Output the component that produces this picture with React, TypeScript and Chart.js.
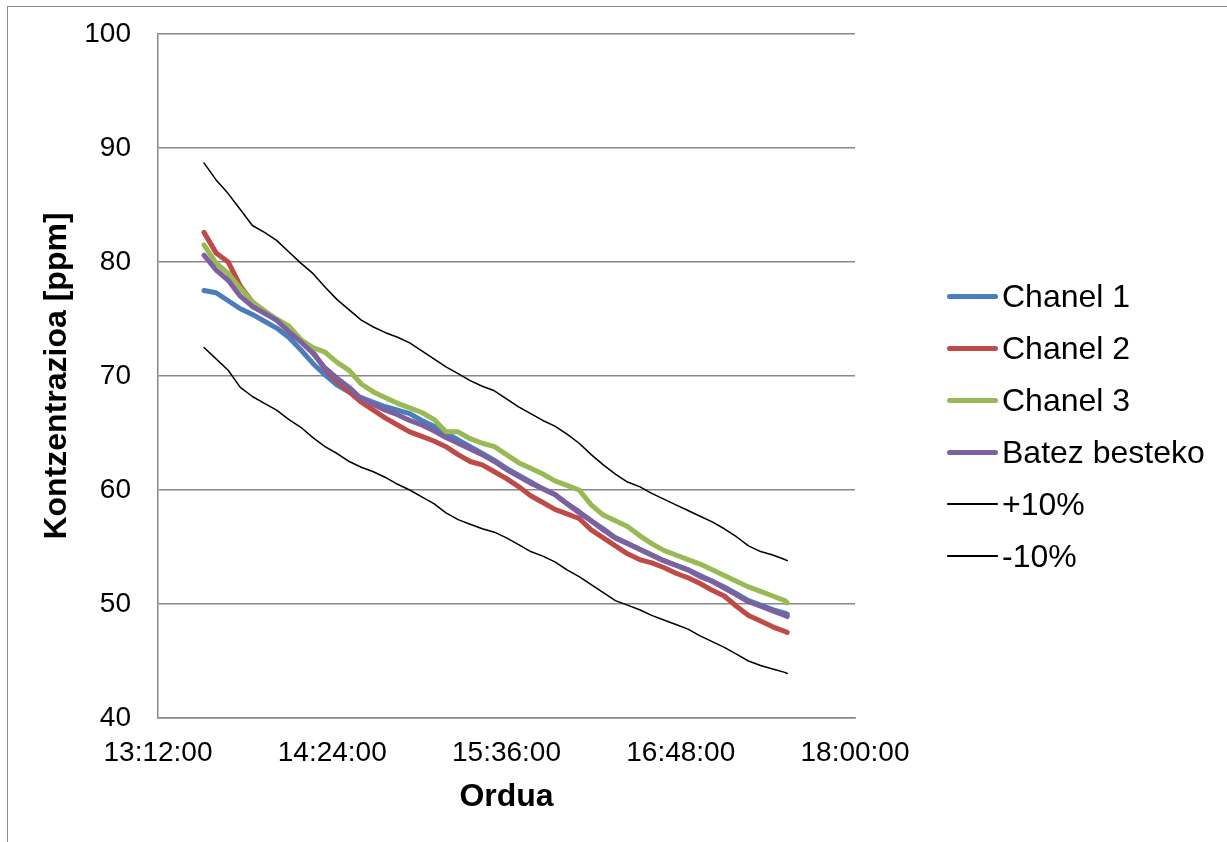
import React, { useEffect, useRef } from "react";
import { Chart, registerables } from "chart.js";

Chart.register(...registerables);

const times = [
  "13:31", "13:36", "13:41", "13:46", "13:51", "13:56", "14:01", "14:06", "14:11", "14:16",
  "14:21", "14:26", "14:31", "14:36", "14:41", "14:46", "14:51", "14:56", "15:01", "15:06",
  "15:11", "15:16", "15:21", "15:26", "15:31", "15:36", "15:41", "15:46", "15:51", "15:56",
  "16:01", "16:06", "16:11", "16:16", "16:21", "16:26", "16:31", "16:36", "16:41", "16:46",
  "16:51", "16:56", "17:01", "17:06", "17:11", "17:16", "17:21", "17:26", "17:31", "17:32",
];

const chanel1 = [
  77.5, 77.3, 76.6, 75.9, 75.4, 74.8, 74.2, 73.4, 72.3, 71.1,
  70.1, 69.2, 68.6, 68.1, 67.7, 67.3, 67.0, 66.7, 66.1, 65.6,
  65.0, 64.4, 63.8, 63.2, 62.6, 61.9, 61.3, 60.7, 60.1, 59.6,
  58.8, 58.1, 57.3, 56.6, 55.8, 55.3, 54.8, 54.3, 53.8, 53.4,
  53.0, 52.5, 52.0, 51.5, 50.9, 50.3, 49.9, 49.5, 49.2, 49.1,
];

const chanel2 = [
  82.6, 80.8, 80.0, 77.9, 76.5, 75.7, 74.9, 74.1, 73.1, 72.1,
  70.6, 69.5, 68.6, 67.7, 67.0, 66.3, 65.7, 65.1, 64.7, 64.3,
  63.8, 63.1, 62.5, 62.2, 61.6, 61.0, 60.3, 59.5, 58.9, 58.3,
  57.9, 57.5, 56.5, 55.8, 55.1, 54.4, 53.9, 53.6, 53.2, 52.7,
  52.3, 51.8, 51.2, 50.7, 49.8, 49.0, 48.5, 48.0, 47.6, 47.5,
];

const chanel3 = [
  81.5, 79.9, 79.0, 77.7, 76.5, 75.7, 75.0, 74.4, 73.2, 72.5,
  72.1, 71.2, 70.5, 69.3, 68.6, 68.1, 67.6, 67.2, 66.8, 66.2,
  65.1, 65.1, 64.5, 64.1, 63.8, 63.1, 62.4, 61.9, 61.4, 60.8,
  60.4, 60.0, 58.7, 57.8, 57.3, 56.8, 56.0, 55.3, 54.7, 54.3,
  53.9, 53.5, 53.0, 52.5, 52.0, 51.5, 51.1, 50.7, 50.3, 50.1,
];

const batezBesteko = [
  80.6, 79.3, 78.4, 77.0, 76.1, 75.5, 74.9, 73.9, 73.0, 72.0,
  70.7, 69.8, 69.0, 68.0, 67.5, 67.0, 66.6, 66.1, 65.7, 65.2,
  64.6, 64.1, 63.6, 63.1, 62.5, 61.8, 61.2, 60.6, 60.1, 59.6,
  58.8, 58.0, 57.3, 56.5, 55.8, 55.3, 54.8, 54.3, 53.8, 53.4,
  53.0, 52.4, 52.0, 51.4, 50.8, 50.2, 49.8, 49.4, 49.0, 48.9,
];

const plus10 = [
  88.7, 87.2, 86.0, 84.6, 83.2, 82.6, 81.9, 80.9, 79.9, 79.0,
  77.8, 76.7, 75.8, 74.9, 74.3, 73.8, 73.4, 72.9, 72.2, 71.5,
  70.8, 70.2, 69.6, 69.1, 68.7, 68.0, 67.3, 66.7, 66.1, 65.6,
  64.9, 64.1, 63.1, 62.2, 61.4, 60.7, 60.3, 59.7, 59.2, 58.7,
  58.2, 57.7, 57.2, 56.6, 55.9, 55.1, 54.6, 54.3, 53.9, 53.8,
];

const minus10 = [
  72.5, 71.5, 70.5, 69.0, 68.2, 67.6, 67.0, 66.2, 65.5, 64.6,
  63.8, 63.2, 62.5, 62.0, 61.6, 61.1, 60.5, 60.0, 59.4, 58.8,
  58.0, 57.4, 57.0, 56.6, 56.3, 55.8, 55.2, 54.6, 54.2, 53.7,
  53.0, 52.4, 51.7, 51.0, 50.3, 49.9, 49.5, 49.0, 48.6, 48.2,
  47.8, 47.2, 46.7, 46.2, 45.6, 45.0, 44.6, 44.3, 44.0, 43.9,
];

const xTickLabels = ["13:12:00", "14:24:00", "15:36:00", "16:48:00", "18:00:00"];
const yTickValues = [40, 50, 60, 70, 80, 90, 100];

const seriesNames = ["Chanel 1", "Chanel 2", "Chanel 3", "Batez besteko", "+10%", "-10%"];
const seriesColors = ["#4A7EBB", "#BE4B48", "#98B954", "#7D60A0", "#000000", "#000000"];
const seriesWidths = [5, 5, 5, 5, 1.5, 1.5];
const seriesValues = [chanel1, chanel2, chanel3, batezBesteko, plus10, minus10];

const FONT = "'Liberation Sans', Arial, Helvetica, sans-serif";

function toMinutes(t: string): number {
  const p = t.split(":").map(Number);
  return p[0] * 60 + p[1] + (p[2] || 0) / 60;
}

export default function App() {
  const canvasRef = useRef<HTMLCanvasElement | null>(null);

  useEffect(() => {
    if (!canvasRef.current) return;
    const xs = times.map(toMinutes);
    const datasets = seriesNames.map((name, i) => ({
      label: name,
      data: seriesValues[i].map((v, j) => ({ x: xs[j], y: v })),
      borderColor: seriesColors[i],
      backgroundColor: seriesColors[i],
      borderWidth: seriesWidths[i],
      pointRadius: 0,
      tension: 0,
      borderJoinStyle: "round" as const,
      borderCapStyle: "round" as const,
      fill: false,
      order: seriesNames.length - i,
    }));
    const xMin = toMinutes(xTickLabels[0]);
    const xMax = toMinutes(xTickLabels[xTickLabels.length - 1]);
    const chart = new Chart(canvasRef.current, {
      type: "line",
      data: { datasets },
      options: {
        animation: false,
        responsive: false,
        maintainAspectRatio: false,
        layout: { padding: { left: 0, right: 372, top: 34, bottom: 0 } },
        plugins: { legend: { display: false }, tooltip: { enabled: false } },
        scales: {
          x: {
            type: "linear",
            min: xMin,
            max: xMax,
            afterFit: (s: any) => {
              s.height = 124;
              s.paddingLeft = 0;
              s.paddingRight = 0;
            },
            afterBuildTicks: (s: any) => {
              s.ticks = xTickLabels.map((l) => ({ value: toMinutes(l) }));
            },
            ticks: {
              autoSkip: false,
              maxRotation: 0,
              padding: 18,
              color: "#000",
              font: { family: FONT, size: 28 },
              callback: (_v: any, idx: number) => xTickLabels[idx],
            },
            grid: { display: false, drawTicks: false },
            border: { display: true, color: "#888888", width: 1.5 },
            title: {
              display: true,
              text: "Ordua",
              color: "#000",
              font: { family: FONT, size: 32, weight: "bold" },
              padding: { top: 0, bottom: 26 },
            },
          },
          y: {
            min: 40,
            max: 100,
            afterFit: (s: any) => {
              s.width = 158;
              s.paddingTop = 0;
              s.paddingBottom = 0;
            },
            afterBuildTicks: (s: any) => {
              s.ticks = yTickValues.map((v) => ({ value: v }));
            },
            ticks: {
              padding: 27,
              color: "#000",
              font: { family: FONT, size: 28 },
            },
            grid: { color: "#888888", lineWidth: 1.5, drawTicks: false },
            border: { display: true, color: "#888888", width: 1.5 },
            title: {
              display: true,
              text: "Kontzentrazioa [ppm]",
              color: "#000",
              font: { family: FONT, size: 32, weight: "bold" },
              padding: { top: 38, bottom: 0 },
            },
          },
        },
      },
    });
    return () => chart.destroy();
  }, []);

  const rowY = [296, 348, 400, 452, 504, 556];

  return (
    <div
      style={{
        position: "fixed",
        left: 0,
        top: 0,
        width: 1227,
        height: 842,
        overflow: "hidden",
        background: "#fff",
      }}
    >
      <div
        style={{
          position: "absolute",
          left: 7,
          top: 6,
          width: 1400,
          height: 1000,
          border: "1px solid #8a8a8a",
          boxSizing: "border-box",
        }}
      />
      <canvas
        ref={canvasRef}
        width={1227}
        height={842}
        style={{ position: "absolute", left: 0, top: 0, width: 1227, height: 842 }}
      />
      {seriesNames.map((name, i) => (
        <div
          key={name}
          style={{
            position: "absolute",
            left: 947,
            top: rowY[i] - 20,
            height: 40,
            display: "flex",
            alignItems: "center",
            fontFamily: FONT,
            fontSize: 32,
            color: "#000",
            whiteSpace: "nowrap",
          }}
        >
          <div
            style={{
              width: 51,
              height: seriesWidths[i],
              borderRadius: seriesWidths[i] / 2,
              background: seriesColors[i],
              marginRight: 4,
            }}
          />
          <span>{name}</span>
        </div>
      ))}
    </div>
  );
}
